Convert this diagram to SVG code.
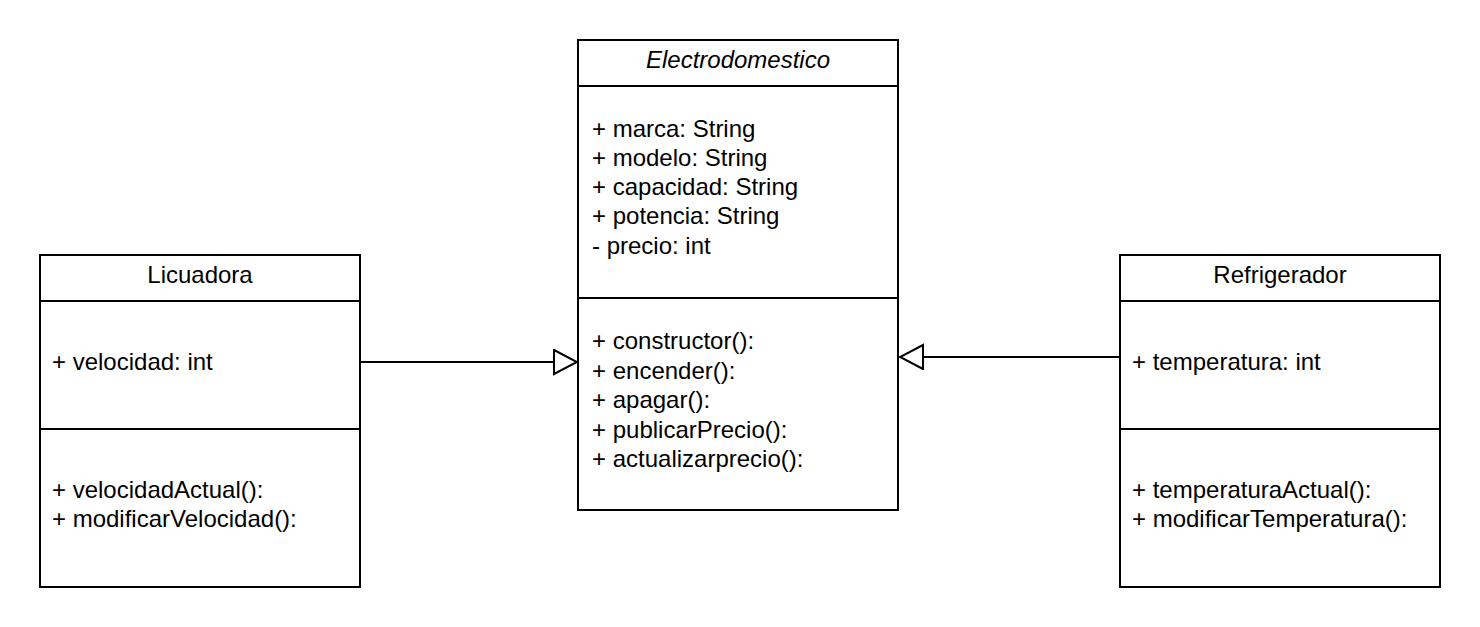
<svg xmlns="http://www.w3.org/2000/svg" width="1480" height="627" viewBox="0 0 1480 627">
<style>
.box{fill:#fff;stroke:#000;stroke-width:2}
.ln{stroke:#000;stroke-width:2;fill:none}
text{font-family:"Liberation Sans",Arial,sans-serif;font-size:24px;fill:#000}
.c{text-anchor:middle}
.i{font-style:italic}
</style>
<defs>
<marker id="tri" markerWidth="26" markerHeight="28" refX="24" refY="13" orient="auto" markerUnits="userSpaceOnUse">
<path d="M1,1 L24,13 L1,25 Z" fill="#fff" stroke="#000" stroke-width="2"/>
</marker>
</defs>
<rect width="1480" height="627" fill="#fff"/>
<g id="connectors">
<line class="ln" x1="360" y1="362" x2="577" y2="362" marker-end="url(#tri)"/>
<line class="ln" x1="1120" y1="357" x2="900" y2="357" marker-end="url(#tri)"/>
</g>
<g id="electrodomestico">
<rect class="box" x="578" y="40" width="320" height="470"/>
<line class="ln" x1="578" y1="86" x2="898" y2="86"/>
<line class="ln" x1="578" y1="298" x2="898" y2="298"/>
<text class="c i" x="738" y="68">Electrodomestico</text>
<text x="592" y="137">+ marca: String</text>
<text x="592" y="166">+ modelo: String</text>
<text x="592" y="195">+ capacidad: String</text>
<text x="592" y="224">+ potencia: String</text>
<text x="592" y="254">- precio: int</text>
<text x="592" y="349">+ constructor():</text>
<text x="592" y="379">+ encender():</text>
<text x="592" y="408">+ apagar():</text>
<text x="592" y="438">+ publicarPrecio():</text>
<text x="592" y="467">+ actualizarprecio():</text>
</g>
<g id="licuadora">
<rect class="box" x="40" y="255" width="320" height="332"/>
<line class="ln" x1="40" y1="301" x2="360" y2="301"/>
<line class="ln" x1="40" y1="429" x2="360" y2="429"/>
<text class="c" x="200" y="283">Licuadora</text>
<text x="52" y="370">+ velocidad: int</text>
<text x="52" y="498">+ velocidadActual():</text>
<text x="52" y="527">+ modificarVelocidad():</text>
</g>
<g id="refrigerador">
<rect class="box" x="1120" y="255" width="320" height="332"/>
<line class="ln" x1="1120" y1="301" x2="1440" y2="301"/>
<line class="ln" x1="1120" y1="429" x2="1440" y2="429"/>
<text class="c" x="1280" y="283">Refrigerador</text>
<text x="1132" y="370">+ temperatura: int</text>
<text x="1132" y="498">+ temperaturaActual():</text>
<text x="1132" y="527">+ modificarTemperatura():</text>
</g>
</svg>
